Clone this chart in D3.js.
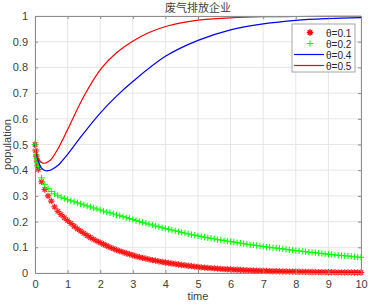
<!DOCTYPE html>
<html>
<head>
<meta charset="utf-8">
<script src="https://cdn.jsdelivr.net/npm/d3@7"></script>
<style>
  body { margin: 0; background: #fff; }
  text { font-family: "Liberation Sans", Arial, sans-serif; }
</style>
</head>
<body>
<svg id="chart"></svg>
<script>
// early solver steps, then every 0.1 time unit for the marker series
const tEarly = [0, 0.02, 0.04, 0.06, 0.08];
const tMarks = tEarly.concat(d3.range(1, 101).map(i => i / 10));

// θ=0.1 (red asterisks)
const theta01 = [0.5, 0.475, 0.455, 0.435, 0.418,
  0.403, 0.355, 0.325, 0.3, 0.28, 0.257, 0.24, 0.227, 0.215, 0.204,
  0.193, 0.182, 0.172, 0.163, 0.154, 0.146, 0.138, 0.131, 0.124, 0.118,
  0.112, 0.106, 0.100, 0.095, 0.090, 0.085, 0.081, 0.077, 0.073, 0.069,
  0.065, 0.062, 0.059, 0.056, 0.053, 0.050, 0.048, 0.045, 0.043, 0.041,
  0.039, 0.037, 0.035, 0.033, 0.031, 0.030, 0.028, 0.027, 0.025, 0.024,
  0.022, 0.021, 0.020, 0.019, 0.018, 0.017, 0.016, 0.015, 0.0145, 0.014,
  0.013, 0.0125, 0.012, 0.011, 0.0105, 0.010, 0.0095, 0.009, 0.0086, 0.0082,
  0.0078, 0.0074, 0.007, 0.0067, 0.0063, 0.006, 0.0057, 0.0054, 0.0052, 0.0049,
  0.0047, 0.0045, 0.0042, 0.004, 0.0038, 0.0037, 0.0035, 0.0033, 0.0032, 0.003,
  0.0029, 0.0027, 0.0026, 0.0025, 0.0024, 0.0023, 0.0022, 0.0021, 0.002, 0.0019];

// θ=0.2 (green pluses)
const theta02 = [0.5, 0.48, 0.46, 0.445, 0.43,
  0.415, 0.37, 0.345, 0.328, 0.317, 0.308, 0.301, 0.295, 0.29, 0.285,
  0.281, 0.277, 0.273, 0.269, 0.265, 0.261, 0.257, 0.253, 0.249, 0.245,
  0.241, 0.237, 0.234, 0.230, 0.226, 0.223, 0.219, 0.215, 0.212, 0.208,
  0.204, 0.201, 0.197, 0.194, 0.190, 0.187, 0.183, 0.180, 0.176, 0.173,
  0.170, 0.167, 0.164, 0.161, 0.158, 0.155, 0.152, 0.149, 0.147, 0.144,
  0.142, 0.139, 0.137, 0.135, 0.133, 0.130, 0.128, 0.126, 0.124, 0.122,
  0.120, 0.118, 0.116, 0.114, 0.112, 0.110, 0.109, 0.107, 0.105, 0.103,
  0.101, 0.100, 0.098, 0.097, 0.095, 0.094, 0.092, 0.090, 0.089, 0.087,
  0.086, 0.084, 0.083, 0.081, 0.080, 0.079, 0.077, 0.076, 0.074, 0.073,
  0.072, 0.070, 0.069, 0.068, 0.067, 0.066, 0.065, 0.063, 0.062, 0.061];

// θ=0.4 (blue line)
const t04 = [0, 0.05, 0.1, 0.2, 0.3, 0.4, 0.5, 0.7, 1.0, 1.5, 2.0, 2.5, 3.0, 4.0, 5.0, 6.0, 7.0, 8.0, 9.0, 10.0];
const theta04 = [0.5, 0.46, 0.435, 0.408, 0.399, 0.398, 0.402, 0.418, 0.462, 0.545, 0.622, 0.688, 0.745, 0.843, 0.905, 0.946, 0.969, 0.983, 0.99, 0.994];

// θ=0.5 (red line)
const t05 = [0, 0.05, 0.1, 0.2, 0.29, 0.4, 0.5, 0.72, 1.0, 1.5, 2.04, 2.5, 2.97, 3.5, 4.09, 5.0, 6.0, 7.0, 8.0, 10.0];
const theta05 = [0.5, 0.465, 0.445, 0.43, 0.427, 0.433, 0.443, 0.487, 0.558, 0.688, 0.797, 0.857, 0.9, 0.936, 0.962, 0.984, 0.993, 0.997, 0.998, 0.999];

const xTicks = d3.range(0, 11);
const yTicks = [0, 0.1, 0.2, 0.3, 0.4, 0.5, 0.6, 0.7, 0.8, 0.9, 1];
const legendLabels = ['θ=0.1', 'θ=0.2', 'θ=0.4', 'θ=0.5'];

const W = 368, H = 306;
const margin = { top: 16, right: 7, bottom: 33, left: 35 };

const svg = d3.select('#chart').attr('width', W).attr('height', H);

const x = d3.scaleLinear().domain([0, 10]).range([margin.left, W - margin.right]);
const y = d3.scaleLinear().domain([0, 1]).range([H - margin.bottom, margin.top]);

const axisColor = '#8c8c8c';
const textColor = '#404040';

// grid
svg.append('g').selectAll('line.gx').data(xTicks).enter().append('line')
  .attr('x1', d => x(d)).attr('x2', d => x(d))
  .attr('y1', y(0)).attr('y2', y(1))
  .attr('stroke', '#e6e6e6').attr('stroke-width', 1);
svg.append('g').selectAll('line.gy').data(yTicks).enter().append('line')
  .attr('x1', x(0)).attr('x2', x(10))
  .attr('y1', d => y(d)).attr('y2', d => y(d))
  .attr('stroke', '#e6e6e6').attr('stroke-width', 1);

const plot = svg.append('g');
const line = d3.line().x(d => x(d[0])).y(d => y(d[1])).curve(d3.curveCatmullRom.alpha(0.5));

// θ=0.1 asterisks
const ast = 3.2;
const astPath = `M${-ast},0H${ast}M0,${-ast}V${ast}M${-ast * 0.7},${-ast * 0.7}L${ast * 0.7},${ast * 0.7}M${-ast * 0.7},${ast * 0.7}L${ast * 0.7},${-ast * 0.7}`;
plot.append('g').selectAll('path').data(tMarks.map((t, i) => [t, theta01[i]])).enter()
  .append('path')
  .attr('transform', d => `translate(${x(d[0])},${y(d[1])})`)
  .attr('d', astPath)
  .attr('stroke', '#ff0000').attr('stroke-width', 1.2).attr('stroke-opacity', 0.85).attr('fill', 'none');

// θ=0.2 pluses
const pl = 3.2;
plot.append('g').selectAll('path').data(tMarks.map((t, i) => [t, theta02[i]])).enter()
  .append('path')
  .attr('transform', d => `translate(${x(d[0])},${y(d[1])})`)
  .attr('d', `M${-pl},0H${pl}M0,${-pl}V${pl}`)
  .attr('stroke', '#00ff00').attr('stroke-width', 1).attr('fill', 'none');

plot.append('path').datum(t04.map((t, i) => [t, theta04[i]]))
  .attr('d', line).attr('fill', 'none').attr('stroke', '#0000ff').attr('stroke-width', 1.2);
plot.append('path').datum(t05.map((t, i) => [t, theta05[i]]))
  .attr('d', line).attr('fill', 'none').attr('stroke', '#ff0000').attr('stroke-width', 1.2);

// axes box with inward ticks
const xAxisB = d3.axisBottom(x).tickValues(xTicks).tickSize(-3).tickPadding(7).tickFormat(d3.format('d'));
const xAxisT = d3.axisTop(x).tickValues(xTicks).tickSize(-3).tickFormat('');
const yAxisL = d3.axisLeft(y).tickValues(yTicks).tickSize(-3).tickPadding(7).tickFormat(d => d === 0 || d === 1 ? String(d) : d3.format('.1f')(d));
const yAxisR = d3.axisRight(y).tickValues(yTicks).tickSize(-3).tickFormat('');

function styleAxis(g) {
  g.select('.domain').attr('stroke', axisColor);
  g.selectAll('.tick line').attr('stroke', axisColor);
  g.selectAll('.tick text').attr('fill', textColor).style('font-size', '11px');
}

svg.append('g').attr('transform', `translate(0,${y(0)})`).call(xAxisB).call(styleAxis);
svg.append('g').attr('transform', `translate(0,${y(1)})`).call(xAxisT).call(styleAxis);
svg.append('g').attr('transform', `translate(${x(0)},0)`).call(yAxisL).call(styleAxis);
svg.append('g').attr('transform', `translate(${x(10)},0)`).call(yAxisR).call(styleAxis);
svg.selectAll('.domain').attr('stroke-width', 1);

// labels
svg.append('text').attr('x', (x(0) + x(10)) / 2).attr('y', 300)
  .attr('text-anchor', 'middle').attr('fill', textColor).style('font-size', '11px').text('time');
svg.append('text').attr('transform', `translate(11,${(y(0) + y(1)) / 2}) rotate(-90)`)
  .attr('text-anchor', 'middle').attr('fill', textColor).style('font-size', '11px').text('population');
svg.append('text').attr('x', (x(0) + x(10)) / 2).attr('y', 12)
  .attr('text-anchor', 'middle').attr('fill', textColor)
  .style('font-family', '"Noto Sans CJK SC", sans-serif').style('font-size', '11px').text('废气排放企业');

// legend
const lg = svg.append('g');
lg.append('rect').attr('x', 292).attr('y', 24).attr('width', 63).attr('height', 48)
  .attr('fill', '#fff').attr('stroke', '#a6a6a6').attr('stroke-width', 1);
const rowY = [32.5, 43.5, 54.5, 65.5];
lg.append('path').attr('transform', `translate(310,${rowY[0]})`)
  .attr('d', astPath).attr('stroke', '#ff0000').attr('stroke-width', 1.4);
lg.append('path').attr('transform', `translate(310,${rowY[1]})`)
  .attr('d', `M${-pl},0H${pl}M0,${-pl}V${pl}`).attr('stroke', '#00ff00').attr('stroke-width', 1);
lg.append('line').attr('x1', 294).attr('x2', 324).attr('y1', rowY[2]).attr('y2', rowY[2])
  .attr('stroke', '#0000ff').attr('stroke-width', 1.2);
lg.append('line').attr('x1', 294).attr('x2', 324).attr('y1', rowY[3]).attr('y2', rowY[3])
  .attr('stroke', '#ff0000').attr('stroke-width', 1.2);
lg.selectAll('text.lab').data(legendLabels).enter().append('text')
  .attr('x', 326).attr('y', (d, i) => rowY[i] + 4)
  .attr('fill', '#262626').style('font-size', '10px').text(d => d);
</script>
</body>
</html>
